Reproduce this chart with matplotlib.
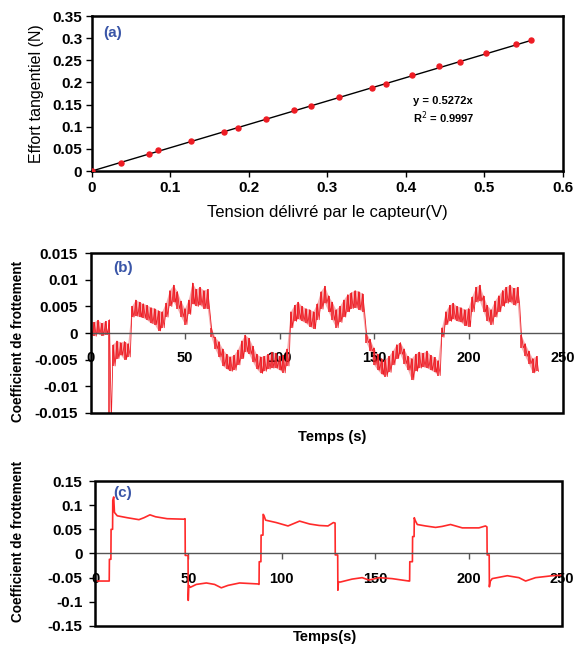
import numpy as np
import matplotlib.pyplot as plt
from matplotlib.patches import Rectangle
from matplotlib.ticker import FuncFormatter, MultipleLocator

plt.rcParams['font.family'] = ['Liberation Sans', 'DejaVu Sans']
plt.rcParams['axes.unicode_minus'] = False

# (a) etalonnage du capteur
tension = [0, 0.037, 0.073, 0.084, 0.126, 0.168, 0.186, 0.222, 0.258, 0.279,
           0.315, 0.357, 0.374, 0.408, 0.442, 0.469, 0.502, 0.540, 0.559]
effort = [0, 0.018, 0.038, 0.048, 0.067, 0.088, 0.097, 0.117, 0.137, 0.146,
          0.166, 0.187, 0.196, 0.217, 0.237, 0.246, 0.266, 0.286, 0.295]
pente = 0.5272
r2 = 0.9997

# (b) coefficient de frottement : valeur haute (t pair) et basse (t impair), pas de 2 s
temps_b = np.arange(0, 237, 2)
haut_b = [0.0022, 0.0020, 0.0024, 0.0018, 0.0022, 0.0025,
          -0.0022, -0.0015, -0.0018, -0.0016, -0.0020,
          0.0050, 0.0062, 0.0058, 0.0055, 0.0052, 0.0048, 0.0046, 0.0042, 0.0040,
          0.0056, 0.0080, 0.0090, 0.0078, 0.0060, 0.0046, 0.0062, 0.0094, 0.0082, 0.0086, 0.0080, 0.0082,
          0.0010, -0.0008, -0.0016, -0.0030, -0.0040, -0.0045, -0.0042, -0.0032, -0.0015, -0.0004,
          -0.0010, -0.0025, -0.0040, -0.0045, -0.0044, -0.0040, -0.0036, -0.0038, -0.0044, -0.0042, -0.0030,
          0.0040, 0.0052, 0.0058, 0.0050, 0.0046, 0.0044, 0.0040, 0.0055, 0.0078, 0.0088,
          0.0070, 0.0058, 0.0044, 0.0050, 0.0062, 0.0072, 0.0076, 0.0080, 0.0078, 0.0074,
          0.0000, -0.0012, -0.0028, -0.0040, -0.0048, -0.0050, -0.0044, -0.0034, -0.0022, -0.0018,
          -0.0030, -0.0044, -0.0048, -0.0040, -0.0036, -0.0038, -0.0034, -0.0042, -0.0046, -0.0052,
          0.0010, 0.0040, 0.0052, 0.0056, 0.0050, 0.0048, 0.0044, 0.0046, 0.0068, 0.0086, 0.0090,
          0.0070, 0.0052, 0.0044, 0.0060, 0.0070, 0.0080, 0.0086, 0.0090, 0.0084, 0.0086,
          -0.0004, -0.0020, -0.0034, -0.0048, -0.0044]
bas_b = [-0.0004, -0.0006, -0.0002, -0.0005, -0.0003, -0.0165,
         -0.0062, -0.0048, -0.0042, -0.0050, -0.0045,
         0.0030, 0.0032, 0.0030, 0.0028, 0.0024, 0.0018, 0.0016, 0.0004, 0.0010,
         0.0030, 0.0050, 0.0058, 0.0046, 0.0030, 0.0016, 0.0035, 0.0055, 0.0050, 0.0052, 0.0046, 0.0046,
         -0.0008, -0.0030, -0.0045, -0.0062, -0.0068, -0.0072, -0.0070, -0.0060, -0.0048, -0.0035,
         -0.0040, -0.0055, -0.0068, -0.0076, -0.0072, -0.0068, -0.0066, -0.0066, -0.0070, -0.0075, -0.0062,
         0.0010, 0.0022, 0.0026, 0.0022, 0.0018, 0.0012, 0.0008, 0.0025, 0.0045, 0.0056,
         0.0040, 0.0024, 0.0010, 0.0020, 0.0030, 0.0040, 0.0046, 0.0048, 0.0044, 0.0040,
         -0.0018, -0.0034, -0.0060, -0.0070, -0.0078, -0.0082, -0.0074, -0.0060, -0.0048, -0.0040,
         -0.0058, -0.0070, -0.0088, -0.0072, -0.0066, -0.0064, -0.0066, -0.0070, -0.0074, -0.0080,
         -0.0008, 0.0016, 0.0022, 0.0026, 0.0022, 0.0020, 0.0014, 0.0012, 0.0040, 0.0058, 0.0060,
         0.0040, 0.0022, 0.0016, 0.0030, 0.0040, 0.0050, 0.0056, 0.0058, 0.0052, 0.0056,
         -0.0028, -0.0044, -0.0058, -0.0075, -0.0072]

# (c) coefficient de frottement, second essai
temps_c = [0, 7.6, 7.7, 8.5, 8.6, 9.4, 9.5, 10.0, 10.4, 11.9, 17.3, 23.5, 26.2, 29.4, 32.4,
           38.6, 47.6, 48.2, 48.3, 49.8, 49.9, 50.2, 51.0, 54.2, 59.6, 64.0, 67.6, 71.2,
           77.4, 87.2, 87.8, 87.9, 88.8, 88.9, 89.9, 90.0, 90.4, 91.3, 97.0, 103.3, 109.5,
           114.9, 120.0, 124.7, 127.6, 128.5, 128.6, 129.9, 130.0, 130.3, 131.4, 137.6,
           143.0, 146.6, 152.0, 159.0, 168.0, 168.4, 168.5, 169.9, 170.0, 170.8, 170.9,
           171.2, 172.5, 176.9, 182.3, 185.8, 190.3, 196.6, 205.5, 209.0, 209.8, 209.9,
           211.0, 211.1, 211.5, 212.6, 220.7, 226.9, 230.5, 235.8, 244.8, 250.0]
frot_c = [-0.057, -0.057, -0.012, -0.012, 0.050, 0.050, 0.110, 0.117, 0.085, 0.078, 0.074,
          0.070, 0.074, 0.080, 0.076, 0.072, 0.071, 0.072, -0.004, -0.004, -0.097, -0.066,
          -0.070, -0.064, -0.061, -0.064, -0.071, -0.066, -0.061, -0.063, -0.064, -0.017,
          -0.017, 0.038, 0.038, 0.081, 0.079, 0.069, 0.064, 0.057, 0.067, 0.061, 0.058,
          0.057, 0.064, 0.063, -0.003, -0.003, -0.076, -0.059, -0.059, -0.053, -0.050,
          -0.055, -0.050, -0.052, -0.057, -0.057, -0.017, -0.017, 0.035, 0.035, 0.074,
          0.070, 0.060, 0.057, 0.054, 0.056, 0.060, 0.053, 0.053, 0.057, 0.055, -0.003,
          -0.003, -0.069, -0.058, -0.052, -0.046, -0.050, -0.057, -0.050, -0.046, -0.045]

ROUGE = '#ee1c24'
ROSE = '#f28a8e'
BLEU = '#3a56a8'


def fmt_excel(v, pos):
    v = round(v, 4)
    if v == 0:
        return '0'
    return format(v, 'g')


def cadre(ax):
    for s in ('left', 'top', 'right'):
        ax.spines[s].set_visible(False)
    ax.add_patch(Rectangle((0, 0), 1, 1, transform=ax.transAxes, fill=False,
                           lw=1.8, ec='black', zorder=5, clip_on=False))


fig = plt.figure(figsize=(5.78, 6.59), dpi=100)

# ---------- (a) ----------
ax1 = fig.add_axes([0.159, 0.7405, 0.815, 0.2352])
ax1.plot([0, tension[-1]], [0, pente * tension[-1]], color='black', lw=1.0, zorder=2)
ax1.plot(tension, effort, 'o', color=ROUGE, ms=3.6, mec=ROUGE, zorder=3)
ax1.set_xlim(0, 0.6)
ax1.set_ylim(0, 0.35)
ax1.xaxis.set_major_locator(MultipleLocator(0.1))
ax1.yaxis.set_major_locator(MultipleLocator(0.05))
ax1.xaxis.set_major_formatter(FuncFormatter(fmt_excel))
ax1.yaxis.set_major_formatter(FuncFormatter(fmt_excel))
for s in ax1.spines.values():
    s.set_linewidth(1.8)
ax1.tick_params(direction='out', length=4, width=1, labelsize=11, pad=3)
for lab in ax1.get_xticklabels() + ax1.get_yticklabels():
    lab.set_fontweight('bold')
ax1.set_xlabel('Tension délivré par le capteur(V)', fontsize=12, va='center')
ax1.xaxis.set_label_coords(0.5, -0.27)
ax1.set_ylabel('Effort tangentiel (N)', fontsize=11.5, va='center')
ax1.yaxis.set_label_coords(-0.117, 0.5)
ax1.text(0.025, 0.89, '(a)', transform=ax1.transAxes, color=BLEU, fontsize=11,
         fontweight='bold', va='center')
ax1.text(0.682, 0.45, 'y = %.4fx' % pente, transform=ax1.transAxes, fontsize=8,
         fontweight='bold', va='center')
ax1.text(0.682, 0.345, 'R$^2$ = %.4f' % r2, transform=ax1.transAxes, fontsize=8,
         fontweight='bold', va='center')

# ---------- (b) ----------
ax2 = fig.add_axes([0.1566, 0.3737, 0.8175, 0.2419])
haut = np.array(haut_b)
bas = np.array(bas_b)
ax2.fill_between(temps_b, bas, haut, where=bas > -0.012, color=ROSE, lw=0, alpha=0.7)
t_zig = np.column_stack([temps_b, temps_b + 1]).ravel()
v_zig = np.column_stack([haut, bas]).ravel()
ax2.plot(t_zig, v_zig, color=ROUGE, lw=0.6)
ax2.vlines(temps_b, bas, haut, color=ROUGE, lw=1.1)
ax2.set_xlim(0, 250)
ax2.set_ylim(-0.015, 0.015)
ax2.xaxis.set_major_locator(MultipleLocator(50))
ax2.yaxis.set_major_locator(MultipleLocator(0.005))

# ---------- (c) ----------
ax3 = fig.add_axes([0.1644, 0.0501, 0.808, 0.2200])
ax3.plot(temps_c, frot_c, color='#ff2a2a', lw=1.2)
ax3.set_xlim(0, 250)
ax3.set_ylim(-0.15, 0.15)
ax3.xaxis.set_major_locator(MultipleLocator(50))
ax3.yaxis.set_major_locator(MultipleLocator(0.05))

for ax in (ax2, ax3):
    cadre(ax)
    ax.spines['bottom'].set_position(('data', 0))
    ax.spines['bottom'].set_color('#555555')
    ax.spines['bottom'].set_linewidth(1.0)
    ax.xaxis.set_major_formatter(FuncFormatter(fmt_excel))
    ax.yaxis.set_major_formatter(FuncFormatter(fmt_excel))
    ax.tick_params(axis='x', direction='out', length=4, width=1, color='#555555',
                   labelsize=10.5, pad=9)
    ax.tick_params(axis='y', direction='out', length=4, width=1, labelsize=11, pad=5)
    for lab in ax.get_xticklabels() + ax.get_yticklabels():
        lab.set_fontweight('bold')

ax2.set_xlabel('Temps (s)', fontsize=10.5, fontweight='bold', va='center')
ax2.xaxis.set_label_coords(0.511, -0.152)
ax2.set_ylabel('Coefficient de frottement', fontsize=9.8, fontweight='bold', va='center')
ax2.yaxis.set_label_coords(-0.153, 0.45)
ax2.text(0.048, 0.908, '(b)', transform=ax2.transAxes, color=BLEU, fontsize=11,
         fontweight='bold', va='center')

ax3.set_xlabel('Temps(s)', fontsize=10.5, fontweight='bold', va='center')
ax3.xaxis.set_label_coords(0.4925, -0.076)
ax3.set_ylabel('Coefficient de frottement', fontsize=9.8, fontweight='bold', va='center')
ax3.yaxis.set_label_coords(-0.165, 0.58)
ax3.text(0.039, 0.917, '(c)', transform=ax3.transAxes, color=BLEU, fontsize=11,
         fontweight='bold', va='center')

fig.savefig('out.png', dpi=100)
